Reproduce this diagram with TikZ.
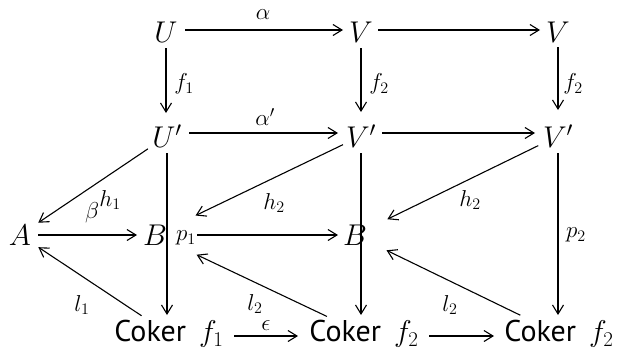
\RequirePackage{fix-cm}
\documentclass[tikz,border=0pt]{standalone}
\usepackage{fontspec}
\newfontfamily\cokerfont{PT Sans}
\usetikzlibrary{arrows.meta,calc}
\begin{document}
\begin{tikzpicture}[x=1pt,y=-1pt,
  obj/.style={inner sep=0pt, font=\fontsize{30}{34}\selectfont},
  cok/.style={inner sep=0pt, font=\fontsize{30}{34}\selectfont\cokerfont},
  lab/.style={inner sep=0pt, font=\fontsize{23}{27}\selectfont},
  ar/.style={line width=1.1pt, -{Straight Barb[length=9pt,width=11pt,line width=1.1pt]}},
  sl/.style={shorten <=#1},
  sr/.style={shorten >=#1}]
\useasboundingbox (0,0) rectangle (617,351);
% objects
\node[obj] (U)   at (166,32)  {$U$};
\node[obj] (V1)  at (361,32)  {$V$};
\node[obj] (V2)  at (558,32)  {$V$};
\node[obj] (Up)  at (167,136) {$U'$};
\node[obj] (Vp1) at (361,136) {$V'$};
\node[obj] (Vp2) at (558,136) {$V'$};
\node[obj] (A)   at (20,235)  {$A$};
\node[obj] (B1)  at (155,235) {$B$};
\node[obj] (B2)  at (355,235) {$B$};
\node[cok] (C1)  at (169,334) {Coker\, $f_1$};
\node[cok] (C2)  at (364,334) {Coker\, $f_2$};
\node[cok] (C3)  at (559,334) {Coker\, $f_2$};
% labels
\node[lab] (la)  at (263,15)  {$\alpha$};
\node[lab] (lap) at (265,117) {$\alpha'$};
\node[lab] (lf1) at (184,84)  {$f_1$};
\node[lab] (lf2) at (379,84)  {$f_2$};
\node[lab] (lf3) at (573,84)  {$f_2$};
\node[lab] (lh1) at (110,200) {$h_1$};
\node[lab] (lb)  at (92,213)  {$\beta$};
\node[lab] (lp1) at (186,238) {$p_1$};
\node[lab] (lh2) at (274,203) {$h_2$};
\node[lab] (lh3) at (470,200) {$h_2$};
\node[lab] (ll1) at (82,305)  {$l_1$};
\node[lab] (ll2) at (255,304) {$l_2$};
\node[lab] (ll3) at (450,305) {$l_2$};
\node[lab] (lp2) at (576,235) {$p_2$};
\node[lab] (le)  at (266,326) {$\epsilon$};
% arrows
\draw[ar, sl=19pt, sr=18pt] ([yshift=2pt]U.center) -- ([yshift=2pt]V1.center);
\draw[ar, sl=17pt, sr=18pt] ([yshift=2pt]V1.center) -- ([yshift=2pt]V2.center);
\draw[ar, sl=16pt, sr=23pt] (U.center) -- (U.center |- Up.center);
\draw[ar, sl=16pt, sr=24pt] (V1.center) -- (Vp1.center);
\draw[ar, sl=15pt, sr=26pt] (V2.center) -- (Vp2.center);
\draw[ar, sl=22pt, sr=23pt] ([yshift=3pt]Up.center) -- ([yshift=3pt]Vp1.center);
\draw[ar, sl=21pt, sr=23pt] ([yshift=3pt]Vp1.center) -- ([yshift=3pt]Vp2.center);
\draw[ar, sl=17pt, sr=19pt] (Up.center) -- (Up.center |- C1.center);
\draw[ar, sl=17pt, sr=19pt] (Vp1.center) -- (Vp1.center |- C2.center);
\draw[ar, sl=17pt, sr=19pt] (Vp2.center) -- (Vp2.center |- C3.center);
\draw[ar, sl=23pt, sr=22pt] (Up.center) -- (A.center);
\draw[ar, sl=20pt, sr=45pt] (Vp1.center) -- (B1.center);
\draw[ar, sl=22pt, sr=36pt] (Vp2.center) -- (B2.center);
\draw[ar, sl=18pt, sr=18pt] (A.center) -- (B1.center);
\draw[ar, sl=42pt, sr=17pt] (B1.center) -- (B2.center);
\draw[ar, sl=33pt, sr=22pt] (C1.center) -- (A.center);
\draw[ar, sl=41pt, sr=46pt] (C2.center) -- (B1.center);
\draw[ar, sl=43pt, sr=35pt] (C3.center) -- (B2.center);
\draw[ar, sl=65pt, sr=66pt] ([yshift=-2pt]C1.center) -- ([yshift=-2pt]C2.center);
\draw[ar, sl=65pt, sr=65pt] ([yshift=-2pt]C2.center) -- ([yshift=-2pt]C3.center);
\end{tikzpicture}
\end{document}
